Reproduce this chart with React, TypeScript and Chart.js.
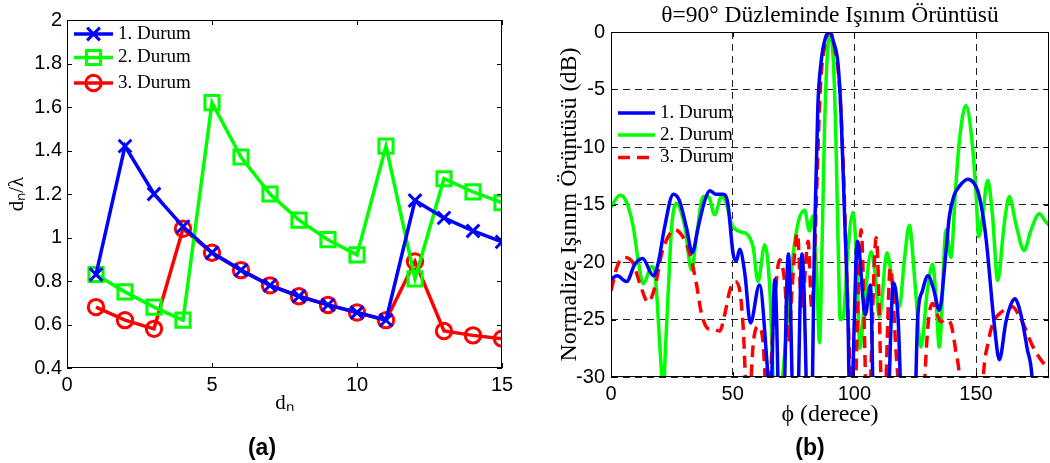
import React, { useEffect, useRef } from "react";
import { Chart, registerables } from "chart.js";
Chart.register(...registerables);

const SERIF = "'Liberation Serif', 'Times New Roman', serif";
const SANS = "'Liberation Sans', Arial, sans-serif";
const BLUE = "#0000ff";
const GREEN = "#00ff00";
const RED = "#ff0000";

// ---------- (a) element spacing ----------
const elementIndex = [1, 2, 3, 4, 5, 6, 7, 8, 9, 10, 11, 12, 13, 14, 15];
const spacing1 = [0.83, 1.42, 1.2, 1.05, 0.93, 0.85, 0.78, 0.73, 0.69, 0.655, 0.62, 1.17, 1.09, 1.03, 0.98];
const spacing2 = [0.83, 0.75, 0.68, 0.62, 1.62, 1.37, 1.2, 1.08, 0.99, 0.92, 1.42, 0.81, 1.27, 1.21, 1.16];
const spacing3 = [0.68, 0.62, 0.58, 1.04, 0.93, 0.85, 0.78, 0.73, 0.69, 0.655, 0.62, 0.89, 0.57, 0.55, 0.535];

// ---------- (b) radiation pattern ----------
const phi1 = [0, 2.5, 6.4, 9.8, 13, 17.4, 19.5, 22, 25.6, 28, 31, 33.4, 35.8, 38.6, 40.6, 43, 46, 48, 50.2, 51.5, 52.9, 55, 57.3, 61, 64.3, 65.5, 67.3, 70, 72.9, 75.8, 78.5, 81.8, 83.7, 85, 86.4, 88, 89.8, 91.5, 93.3, 94.6, 96, 97.4, 98.3, 101.3, 104.5, 106.6, 108.6, 112.5, 116.1, 118, 120.7, 124, 126, 128, 130.2, 132.5, 134.9, 137.5, 139, 141, 143.2, 146.6, 149, 150.7, 152.5, 154.2, 157.5, 159.6, 162.3, 164.5, 166.1, 167.5, 169.1, 171, 173.2, 175, 180];
const db1 = [-21.5, -21.2, -21.7, -20.2, -19.7, -21.2, -20, -17, -14.1, -14.6, -17, -19.2, -17, -14.6, -13.8, -14.1, -14.1, -14.9, -19.3, -19.9, -18.9, -21, -25.3, -22, -29.3, -33, -21.5, -40, -19.3, -40, -19.3, -40, -17.5, -6.5, -2.5, -0.6, 0, -0.9, -2.8, -7.4, -16, -25, -35, -18.2, -24.6, -22, -40, -40, -21.8, -25, -40, -40, -25, -22.5, -21.2, -22.3, -24.2, -19.5, -16.1, -14.2, -13.4, -12.8, -13.1, -13.8, -15.5, -18.1, -25.4, -28.5, -25.2, -23.6, -23.2, -23.8, -25.2, -27.5, -30.5, -40, -40];

const phi2 = [0, 3.7, 5, 7.1, 9.2, 11.2, 13.3, 16.7, 18, 19, 20.1, 21.5, 22.5, 23.5, 24.9, 27, 29, 30.4, 33.1, 35.1, 37.9, 40, 42.6, 45.4, 47.4, 49.5, 51.5, 53.6, 56, 58.4, 60.4, 63.2, 65.4, 66.6, 68, 70.5, 72.5, 74.5, 77, 79.6, 81.5, 83, 84.5, 85.7, 86.8, 87.8, 89.9, 91.5, 92.5, 93.5, 94.2, 95.5, 97, 99.4, 101, 102.3, 104, 106.9, 108.5, 110.3, 113.4, 116.2, 118.5, 120.5, 122.6, 125, 127.4, 130, 132.2, 133.5, 134.9, 137.7, 139.7, 141.5, 143.2, 145.9, 148.6, 150, 151.1, 152.7, 154.8, 156.8, 158.9, 161.6, 163.7, 166.4, 169.8, 172.5, 176, 178.7, 180];
const db2 = [-15.2, -14.2, -14.3, -15.2, -17, -19.9, -21.9, -20.4, -21, -23.5, -27.4, -31, -27, -22.7, -17, -14.9, -15.8, -17, -20.7, -17.8, -14.3, -14.3, -15.9, -14.3, -14.9, -16.7, -17.2, -17.4, -17.6, -18.7, -21.7, -18.5, -22.9, -30, -34, -30, -25, -20, -16.5, -15.5, -17.3, -16, -21, -27, -18, -8, 0, -3, -10, -20, -25, -24.8, -20, -15.7, -20, -27.5, -24, -19.1, -21, -24.8, -19.2, -22.5, -23.9, -20, -16.8, -22, -27.4, -22.5, -20.2, -23, -27.4, -17.2, -19.6, -14, -9.4, -6.4, -10, -14, -17.8, -16, -12.9, -16, -21.6, -16.7, -14.3, -16.7, -19, -17.3, -15.8, -16.5, -16.8];

const phi3 = [0, 2.7, 5.7, 9.1, 11.9, 15.3, 18, 20.8, 23.5, 26.2, 29.5, 32.4, 35.1, 37.2, 39.9, 42.6, 44.7, 46.8, 48.8, 50.9, 53, 54.3, 56.3, 58.5, 60.5, 62.5, 64.5, 66.5, 69.3, 71.5, 73, 74.5, 76.6, 78.4, 81, 82.5, 83.6, 84.4, 86, 88, 90, 92, 94, 95.5, 97, 98, 99.5, 102.8, 105.5, 109, 112, 114.8, 117.2, 118.5, 120.5, 127.3, 129, 130.5, 132.2, 134, 135.6, 137.5, 139.7, 141.5, 143.5, 145, 151, 153, 155, 156.8, 160.2, 165, 168, 170.5, 173, 176, 180];
const db3 = [-22.5, -20.3, -19.6, -20.1, -21.9, -23.5, -22.2, -19.3, -17.8, -17.2, -17.8, -19.3, -21.9, -24.5, -25.8, -25.9, -26, -24.5, -22.5, -21.7, -22.6, -25.6, -34, -27, -25.6, -27, -34, -26, -19.8, -22, -27, -22, -17.5, -24, -18.2, -24, -20, -14.6, -5, -1, 0, -1.5, -5, -12, -22, -28, -35, -17.2, -35, -17.9, -35, -20.5, -28, -32, -40, -40, -30, -25, -23.6, -24.5, -25.2, -25, -25.4, -27.5, -31, -40, -40, -30, -27, -25.4, -24.4, -23.9, -24.8, -25.9, -27.2, -28.3, -29.4];

const frameTicks = {
  id: "frameTicks",
  afterDatasetsDraw(chart: any) {
    const { ctx, chartArea: a, scales } = chart;
    ctx.save();
    ctx.setLineDash([]);
    ctx.strokeStyle = "#000";
    ctx.lineWidth = 1;
    const L = 5;
    ctx.beginPath();
    scales.x.ticks.forEach((_t: any, i: number) => {
      const px = Math.round(scales.x.getPixelForTick(i)) + 0.5;
      ctx.moveTo(px, a.bottom);
      ctx.lineTo(px, a.bottom - L);
      ctx.moveTo(px, a.top);
      ctx.lineTo(px, a.top + L);
    });
    scales.y.ticks.forEach((_t: any, i: number) => {
      const py = Math.round(scales.y.getPixelForTick(i)) + 0.5;
      ctx.moveTo(a.left, py);
      ctx.lineTo(a.left + L, py);
      ctx.moveTo(a.right, py);
      ctx.lineTo(a.right - L, py);
    });
    ctx.stroke();
    ctx.strokeRect(Math.round(a.left) + 0.5, Math.round(a.top) + 0.5, Math.round(a.right - a.left) - 1, Math.round(a.bottom - a.top) - 1);
    ctx.restore();
  },
};

const inLegend = {
  id: "inLegend",
  afterDraw(chart: any, _args: any, opts: any) {
    const { ctx, chartArea: a } = chart;
    ctx.save();
    chart.data.datasets.forEach((ds: any, i: number) => {
      const y = a.top + opts.ys[i];
      const x0 = a.left + opts.x;
      const x1 = x0 + opts.len;
      ctx.strokeStyle = ds.borderColor;
      ctx.lineWidth = ds.borderWidth;
      ctx.setLineDash(ds.borderDash || []);
      ctx.beginPath();
      ctx.moveTo(x0, y);
      ctx.lineTo(x1, y);
      ctx.stroke();
      ctx.setLineDash([]);
      if (ds.pointRadius) {
        const cx = (x0 + x1) / 2;
        const r = ds.pointRadius;
        ctx.lineWidth = ds.pointBorderWidth;
        ctx.beginPath();
        if (ds.pointStyle === "crossRot") {
          const o = r * Math.SQRT1_2;
          ctx.moveTo(cx - o, y - o);
          ctx.lineTo(cx + o, y + o);
          ctx.moveTo(cx + o, y - o);
          ctx.lineTo(cx - o, y + o);
        } else if (ds.pointStyle === "rect") {
          const s = r * Math.SQRT1_2;
          ctx.rect(cx - s, y - s, 2 * s, 2 * s);
        } else {
          ctx.arc(cx, y, r, 0, Math.PI * 2);
        }
        ctx.stroke();
      }
      ctx.fillStyle = "#000";
      ctx.font = `${opts.size}px ${SERIF}`;
      ctx.textBaseline = "middle";
      ctx.textAlign = "left";
      ctx.fillText(ds.label, x1 + opts.gap, y);
    });
    ctx.restore();
  },
};

const tickFont = { family: SANS, size: 20 };

export default function App() {
  const leftRef = useRef<HTMLCanvasElement>(null);
  const rightRef = useRef<HTMLCanvasElement>(null);

  useEffect(() => {
    const mk = (xs: number[], ys: number[]) => xs.map((x, i) => ({ x, y: ys[i] }));
    const markerSet = (color: string, style: string, r: number, order: number, label: string, vals: number[]) => ({
      label,
      data: mk(elementIndex, vals),
      borderColor: color,
      backgroundColor: "rgba(0,0,0,0)",
      borderWidth: 3.5,
      pointStyle: style,
      pointRadius: r,
      pointBorderWidth: 3,
      pointBorderColor: color,
      pointBackgroundColor: "rgba(0,0,0,0)",
      tension: 0,
      order,
    });

    const left = new Chart(leftRef.current!, {
      type: "line",
      data: {
        datasets: [
          markerSet(BLUE, "crossRot", 9, 0, "1. Durum", spacing1),
          markerSet(GREEN, "rect", 10, 1, "2. Durum", spacing2),
          markerSet(RED, "circle", 7.7, 2, "3. Durum", spacing3),
        ] as any,
      },
      options: {
        responsive: false,
        animation: false,
        events: [],
        layout: { padding: { left: 0, top: 20, right: 28, bottom: 47.4 } },
        scales: {
          x: {
            type: "linear",
            min: 0,
            max: 15,
            afterFit: (s: any) => { s.height = 47.6; },
            grid: { display: false, drawTicks: false },
            border: { display: false },
            ticks: { stepSize: 5, color: "#000", font: tickFont, padding: 5, maxRotation: 0 },
            title: { display: true, text: "dₙ", color: "#000", font: { family: SERIF, size: 21 }, padding: 0 },
          },
          y: {
            type: "linear",
            min: 0.4,
            max: 2,
            afterFit: (s: any) => { s.width = 67; },
            grid: { display: false, drawTicks: false },
            border: { display: false },
            ticks: { stepSize: 0.2, color: "#000", font: tickFont, padding: 5, callback: (v: any) => String(Math.round(Number(v) * 10) / 10) },
            title: { display: true, text: "dₙ/λ", color: "#000", font: { family: SERIF, size: 21 }, padding: { top: 4.4, bottom: 0 } },
          },
        },
        plugins: {
          legend: { display: false },
          tooltip: { enabled: false },
          inLegend: { x: 7, len: 39, gap: 5, ys: [14, 37.5, 63], size: 19 },
        } as any,
      },
      plugins: [frameTicks, inLegend],
    });

    const curve = (color: string, xs: number[], ys: number[], order: number, label: string, dash?: number[]) => ({
      label,
      data: mk(xs, ys),
      borderColor: color,
      backgroundColor: color,
      borderWidth: 3.5,
      borderDash: dash,
      pointRadius: 0,
      cubicInterpolationMode: "monotone",
      order,
    });

    const right = new Chart(rightRef.current!, {
      type: "line",
      data: {
        datasets: [
          curve(BLUE, phi1, db1, 0, "1. Durum"),
          curve(GREEN, phi2, db2, 2, "2. Durum"),
          curve(RED, phi3, db3, 1, "3. Durum", [12, 7]),
        ] as any,
      },
      options: {
        responsive: false,
        animation: false,
        events: [],
        layout: { padding: { left: 0, top: 0, right: 1, bottom: 33.6 } },
        scales: {
          x: {
            type: "linear",
            min: 0,
            max: 180,
            afterBuildTicks: (s: any) => { s.ticks = s.ticks.filter((t: any) => t.value % 50 === 0); },
            afterFit: (s: any) => { s.height = 52.4; },
            grid: { color: "#222", lineWidth: 1, drawTicks: false },
            border: { display: false, dash: [7, 5] },
            ticks: { stepSize: 50, color: "#000", font: tickFont, padding: 5, maxRotation: 0, callback: (v: any) => String(v) },
            title: { display: true, text: "ϕ (derece)", color: "#000", font: { family: SERIF, size: 24 }, padding: 0 },
          },
          y: {
            type: "linear",
            min: -30,
            max: 0,
            afterFit: (s: any) => { s.width = 81; },
            grid: { color: "#222", lineWidth: 1, drawTicks: false },
            border: { display: false, dash: [7, 5] },
            ticks: { stepSize: 5, color: "#000", font: tickFont, padding: 6, callback: (v: any) => String(v) },
            title: { display: true, text: "Normalize Işınım Örüntüsü (dB)", color: "#000", font: { family: SERIF, size: 24 }, padding: { top: 25.6, bottom: 0 } },
          },
        },
        plugins: {
          legend: { display: false },
          tooltip: { enabled: false },
          title: {
            display: true,
            fullSize: false,
            text: "θ=90° Düzleminde Işınım Örüntüsü",
            color: "#000",
            font: { family: SERIF, size: 23.5, weight: "normal" },
            padding: { top: 2, bottom: 1.8 },
          },
          inLegend: { x: 7, len: 37, gap: 5, ys: [81, 103, 125.5], size: 19 },
        } as any,
      },
      plugins: [frameTicks, inLegend],
    });

    return () => {
      left.destroy();
      right.destroy();
    };
  }, []);

  const caption: React.CSSProperties = {
    position: "absolute",
    top: 434,
    width: 80,
    textAlign: "center",
    font: `bold 23px ${SANS}`,
    color: "#000",
  };

  return (
    <div style={{ position: "absolute", left: 0, top: 0, width: 1050, height: 463, background: "#fff", overflow: "hidden" }}>
      <canvas ref={leftRef} width={530} height={463} style={{ position: "absolute", left: 0, top: 0 }} />
      <canvas ref={rightRef} width={520} height={463} style={{ position: "absolute", left: 530, top: 0 }} />
      <div style={{ ...caption, left: 222 }}>(a)</div>
      <div style={{ ...caption, left: 770 }}>(b)</div>
    </div>
  );
}
